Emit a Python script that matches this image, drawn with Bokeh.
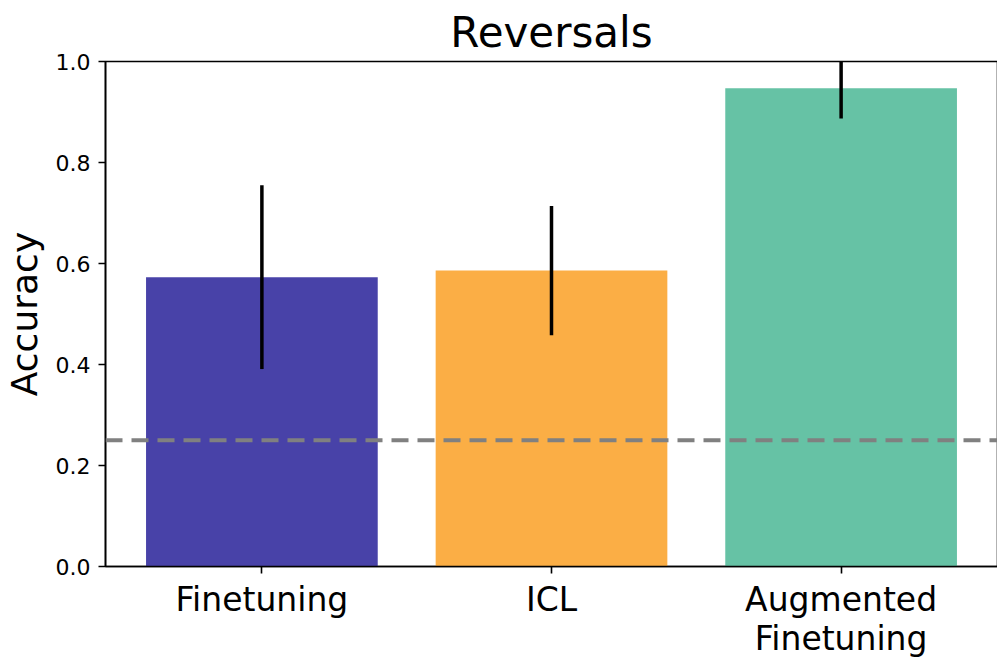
from bokeh.plotting import figure
from bokeh.models import Span, ColumnDataSource, FixedTicker, Range1d, NumeralTickFormatter
from bokeh.embed import file_html
from bokeh.resources import INLINE

# ---- data ----
categories = ["Finetuning", "ICL", "Augmented\nFinetuning"]
accuracy = [0.573, 0.586, 0.947]
error = [0.182, 0.128, 0.060]
colors = ["#4842a8", "#fbae45", "#66c2a5"]
chance_level = 0.25
y_ticks = [0.0, 0.2, 0.4, 0.6, 0.8, 1.0]

x = list(range(len(categories)))
lower = [a - e for a, e in zip(accuracy, error)]
upper = [a + e for a, e in zip(accuracy, error)]

src = ColumnDataSource(dict(x=x, top=accuracy, lower=lower, upper=upper, color=colors))

FONT = "DejaVu Sans"

p = figure(frame_width=892, frame_height=505,
           x_range=Range1d(-0.54, 2.54), y_range=Range1d(0, 1),
           output_backend="svg", toolbar_location=None,
           title="Reversals",
           min_border_left=0, min_border_right=1,
           min_border_top=0, min_border_bottom=0)

p.vbar(x="x", top="top", width=0.8, fill_color="color", line_color=None, source=src)
p.segment(x0="x", y0="lower", x1="x", y1="upper", line_width=3.5, line_color="black", source=src)
p.add_layout(Span(location=chance_level, dimension="width", line_color="#808080",
                  line_width=4, line_dash="17 9"))

# title
p.title.text_font = FONT
p.title.text_font_size = "42px"
p.title.text_font_style = "normal"
p.title.align = "center"
p.title.standoff = 10
p.title.text_color = "black"

# frame
p.grid.visible = False
p.outline_line_color = "black"
p.outline_line_width = 1.6
p.outline_line_alpha = 1.0
p.background_fill_color = "white"
p.border_fill_color = "white"

for ax in (p.xaxis[0], p.yaxis[0]):
    ax.axis_line_width = 1.6
    ax.axis_line_color = "black"
    ax.major_tick_line_width = 1.6
    ax.major_tick_line_color = "black"
    ax.major_tick_in = 0
    ax.major_tick_out = 7
    ax.minor_tick_line_color = None
    ax.major_label_text_font = FONT
    ax.major_label_text_color = "black"
    ax.axis_label_text_font = FONT
    ax.axis_label_text_font_style = "normal"
    ax.axis_label_text_color = "black"

p.xaxis.ticker = FixedTicker(ticks=x)
p.xaxis.major_label_overrides = {i: c for i, c in zip(x, categories)}
p.xaxis.major_label_text_font_size = "33px"
p.xaxis.major_label_text_line_height = 1.0
p.xaxis.major_label_standoff = 6

p.yaxis.ticker = FixedTicker(ticks=y_ticks)
p.yaxis.formatter = NumeralTickFormatter(format="0.0")
p.yaxis.major_label_text_font_size = "22px"
p.yaxis.major_label_standoff = 8
p.yaxis.axis_label = "Accuracy"
p.yaxis.axis_label_text_font_size = "36px"
p.yaxis.axis_label_standoff = 8

open("out.html", "w").write(file_html(p, INLINE))
